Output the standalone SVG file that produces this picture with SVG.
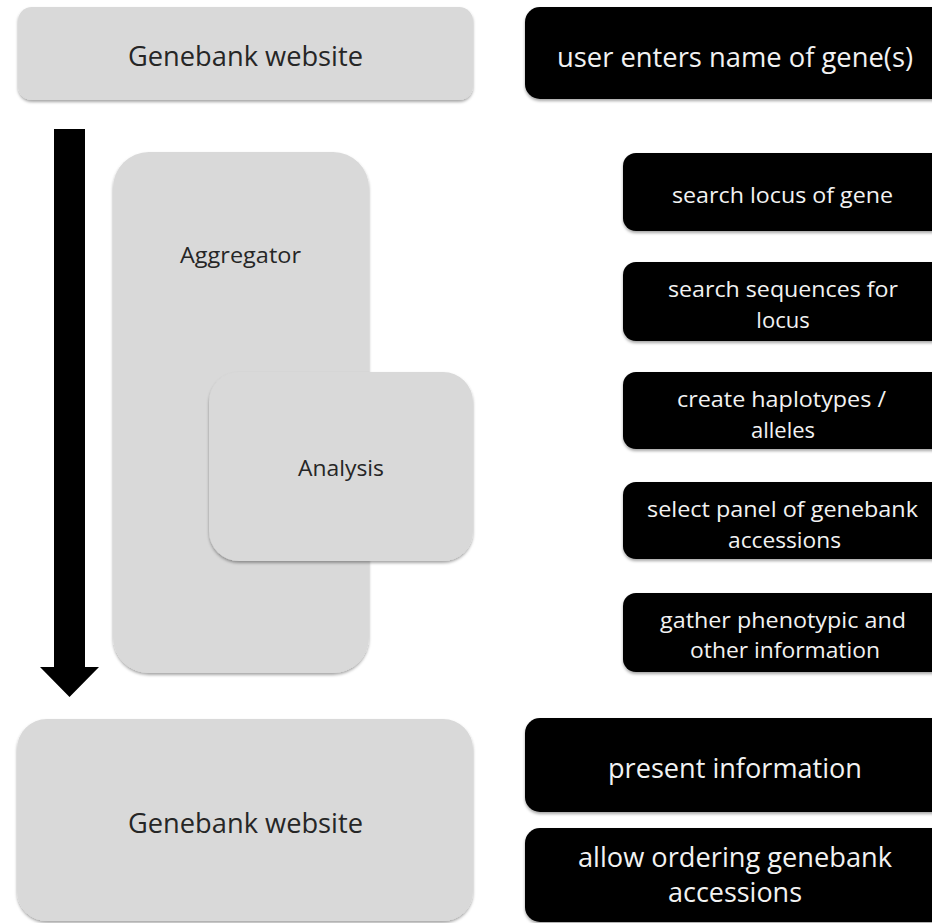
<svg xmlns="http://www.w3.org/2000/svg" width="932" height="923" viewBox="0 0 932 923">
<defs>
<filter id="sh" x="-10%" y="-10%" width="120%" height="130%">
<feDropShadow dx="0" dy="2" stdDeviation="1.5" flood-color="#000" flood-opacity="0.35"/>
</filter>
<style>
.g{fill:#d9d9d9;filter:url(#sh)}
.b{fill:#000;filter:url(#sh)}
.tg{font-family:"Open Sans","Liberation Sans",sans-serif;fill:#262626;text-anchor:middle}
.tw{font-family:"Open Sans","Liberation Sans",sans-serif;fill:#f2f2f2;text-anchor:middle}
.L{font-size:28px}
.S{font-size:22px}
.M{font-size:23px}
</style>
</defs>
<rect width="932" height="923" fill="#fff"/>
<g id="connectors">
<polygon points="54,129 85,129 85,667 99,667 69.5,697 40,667 54,667" fill="#000"/>
</g>
<g id="genebank-top">
<rect class="g" x="18" y="7" width="455" height="93" rx="14"/>
<text class="tg L" x="245.5" y="66" textLength="235" lengthAdjust="spacingAndGlyphs">Genebank website</text>
</g>
<g id="user-enters">
<rect class="b" x="525" y="7" width="440" height="92" rx="15"/>
<text class="tw L" x="735" y="67" textLength="356" lengthAdjust="spacingAndGlyphs">user enters name of gene(s)</text>
</g>
<g id="aggregator">
<rect class="g" x="113" y="152" width="256" height="521" rx="36"/>
<text class="tg S" x="240.5" y="263" textLength="121" lengthAdjust="spacingAndGlyphs">Aggregator</text>
</g>
<g id="analysis">
<rect class="g" x="209" y="372" width="264" height="189" rx="30"/>
<text class="tg S" x="341" y="476" textLength="86" lengthAdjust="spacingAndGlyphs">Analysis</text>
</g>
<g id="search-locus">
<rect class="b" x="623" y="153" width="340" height="78" rx="13"/>
<text class="tw S" x="782.5" y="203" textLength="221" lengthAdjust="spacingAndGlyphs">search locus of gene</text>
</g>
<g id="search-sequences">
<rect class="b" x="623" y="262" width="340" height="79" rx="13"/>
<text class="tw S" x="783" y="297" textLength="230" lengthAdjust="spacingAndGlyphs">search sequences for</text>
<text class="tw S" x="783" y="328">locus</text>
</g>
<g id="create-haplotypes">
<rect class="b" x="623" y="372" width="340" height="77" rx="13"/>
<text class="tw S" x="781.5" y="407" textLength="209" lengthAdjust="spacingAndGlyphs">create haplotypes /</text>
<text class="tw S" x="783" y="438">alleles</text>
</g>
<g id="select-panel">
<rect class="b" x="623" y="482" width="340" height="77" rx="13"/>
<text class="tw S" x="782.5" y="517" textLength="271" lengthAdjust="spacingAndGlyphs">select panel of genebank</text>
<text class="tw S" x="784.5" y="548" textLength="113" lengthAdjust="spacingAndGlyphs">accessions</text>
</g>
<g id="gather-phenotypic">
<rect class="b" x="623" y="593" width="340" height="79" rx="13"/>
<text class="tw S" x="783" y="628" textLength="246" lengthAdjust="spacingAndGlyphs">gather phenotypic and</text>
<text class="tw S" x="785" y="658" textLength="190" lengthAdjust="spacingAndGlyphs">other information</text>
</g>
<g id="genebank-bottom">
<rect class="g" x="17" y="719" width="456" height="202" rx="30"/>
<text class="tg L" x="245.5" y="833" textLength="235" lengthAdjust="spacingAndGlyphs">Genebank website</text>
</g>
<g id="present-information">
<rect class="b" x="525" y="718" width="440" height="94" rx="15"/>
<text class="tw L" x="735" y="778" textLength="254" lengthAdjust="spacingAndGlyphs">present information</text>
</g>
<g id="allow-ordering">
<rect class="b" x="525" y="828" width="440" height="94" rx="15"/>
<text class="tw L" x="735" y="867" textLength="314" lengthAdjust="spacingAndGlyphs">allow ordering genebank</text>
<text class="tw L" x="735" y="902" textLength="134" lengthAdjust="spacingAndGlyphs">accessions</text>
</g>
</svg>
